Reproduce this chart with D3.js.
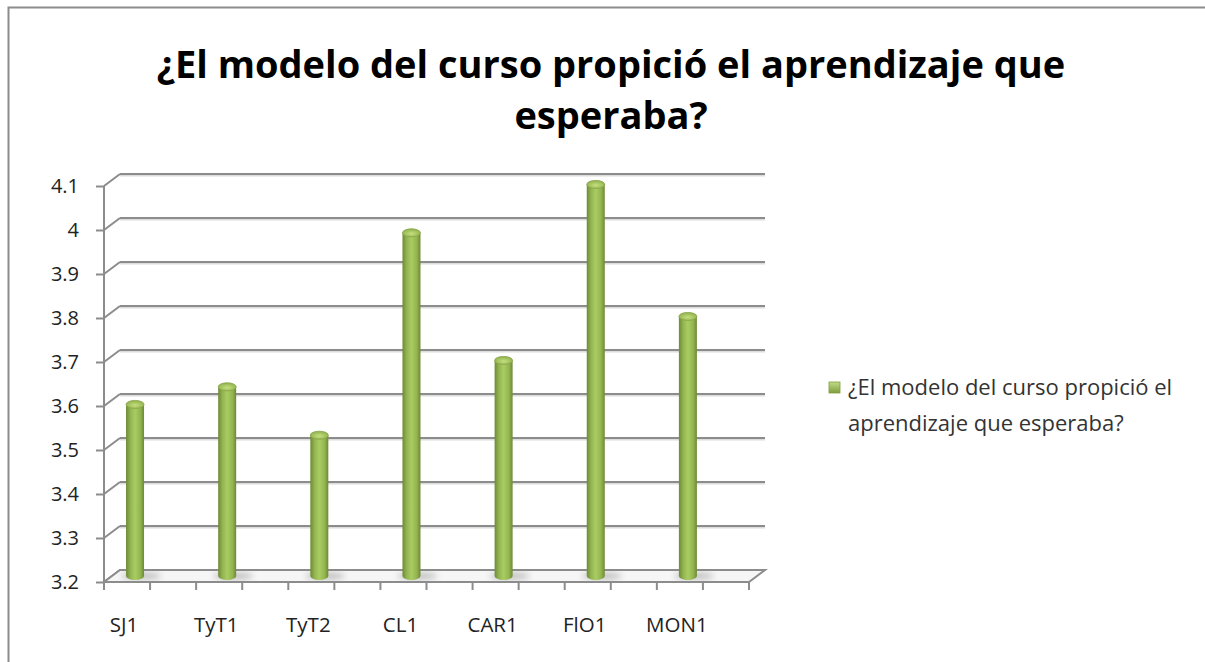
<!DOCTYPE html>
<html>
<head>
<meta charset="utf-8">
<script src="https://cdn.jsdelivr.net/npm/d3@7"></script>
<style>
  body { margin: 0; background: #fff; overflow: hidden; }
  svg { display: block; font-family: "Open Sans", Lato, sans-serif; }
</style>
</head>
<body>
<svg id="chart"></svg>
<script>
// data
const categories = ["SJ1", "TyT1", "TyT2", "CL1", "CAR1", "FlO1", "MON1"];
const values = [3.59, 3.63, 3.52, 3.98, 3.69, 4.09, 3.79];
const yTicks = [3.2, 3.3, 3.4, 3.5, 3.6, 3.7, 3.8, 3.9, 4, 4.1];
const seriesName = "¿El modelo del curso propició el aprendizaje que esperaba?";

const width = 1205, height = 662;
const plot = { left: 104, right: 749, top: 186, bottom: 582 };
const depth = { dx: 16, dy: -12 }; // 3d back-wall offset

const svg = d3.select("#chart").attr("width", width).attr("height", height);

// outer frame (only top and left edges are inside the picture)
svg.append("path")
  .attr("d", `M8.5,${height}V7.5H${width}`)
  .attr("fill", "none").attr("stroke", "#8c8c8c").attr("stroke-width", 2);

const defs = svg.append("defs");
const grad = defs.append("linearGradient").attr("id", "cyl").attr("x1", 0).attr("x2", 1).attr("y1", 0).attr("y2", 0);
grad.append("stop").attr("offset", "0%").attr("stop-color", "#6f8a35");
grad.append("stop").attr("offset", "25%").attr("stop-color", "#94b652");
grad.append("stop").attr("offset", "50%").attr("stop-color", "#a9cc62");
grad.append("stop").attr("offset", "80%").attr("stop-color", "#93b450");
grad.append("stop").attr("offset", "100%").attr("stop-color", "#6d8833");
const capGrad = defs.append("radialGradient").attr("id", "cap").attr("cx", "50%").attr("cy", "60%").attr("r", "60%");
capGrad.append("stop").attr("offset", "0%").attr("stop-color", "#c4e07e");
capGrad.append("stop").attr("offset", "100%").attr("stop-color", "#8fae4c");
defs.append("filter").attr("id", "blur").append("feGaussianBlur").attr("stdDeviation", 3);
const legGrad = defs.append("linearGradient").attr("id", "leg").attr("x1", 0).attr("x2", 0).attr("y1", 0).attr("y2", 1);
legGrad.append("stop").attr("offset", "0%").attr("stop-color", "#c2dc86");
legGrad.append("stop").attr("offset", "100%").attr("stop-color", "#7f9d3e");

// scales
const y = d3.scaleLinear().domain([3.2, 4.1]).range([plot.bottom, plot.top]);
const x = d3.scaleBand().domain(categories).range([plot.left, plot.right]).padding(0);
const bw = x.bandwidth();

// gridlines on back wall + slanted side wall edges
const grid = svg.append("g");
yTicks.forEach(t => {
  const yy = y(t);
  if (t > 3.2) {
    grid.append("line")
      .attr("x1", plot.left + depth.dx).attr("x2", plot.right + depth.dx)
      .attr("y1", yy + depth.dy + 1.5).attr("y2", yy + depth.dy + 1.5)
      .attr("stroke", "#dcdcdc").attr("stroke-width", 2);
    grid.append("line")
      .attr("x1", plot.left + depth.dx).attr("x2", plot.right + depth.dx)
      .attr("y1", yy + depth.dy).attr("y2", yy + depth.dy)
      .attr("stroke", "#8c8c8c").attr("stroke-width", 2);
  }
  grid.append("line")
    .attr("x1", plot.left).attr("x2", plot.left + depth.dx)
    .attr("y1", yy).attr("y2", yy + depth.dy)
    .attr("stroke", "#8c8c8c").attr("stroke-width", 2);
});

// floor
const floor = svg.append("g");
floor.append("path")
  .attr("d", `M${plot.left},${plot.bottom}L${plot.right},${plot.bottom}L${plot.right + depth.dx},${plot.bottom + depth.dy}L${plot.left + depth.dx},${plot.bottom + depth.dy}Z`)
  .attr("fill", "#f6f6f6").attr("stroke", "#8c8c8c").attr("stroke-width", 2);

// floor shadows
floor.selectAll("ellipse.shadow")
  .data(categories)
  .join("ellipse")
  .attr("class", "shadow")
  .attr("cx", d => x(d) + bw / 4 + depth.dx / 2 + 6)
  .attr("cy", plot.bottom + depth.dy / 2)
  .attr("rx", 20).attr("ry", 3.5)
  .attr("fill", "#bdbdbd")
  .attr("filter", "url(#blur)");

// y axis
const yAxis = svg.append("g")
  .attr("transform", `translate(${plot.left},0)`)
  .call(d3.axisLeft(y).tickValues(yTicks).tickFormat(d3.format("")).tickSize(8).tickPadding(17));
yAxis.select(".domain").attr("stroke", "#8c8c8c").attr("stroke-width", 2).attr("d", `M0,${plot.top}V${plot.bottom}`);
yAxis.selectAll(".tick line").attr("stroke", "#8c8c8c").attr("stroke-width", 2);
yAxis.selectAll(".tick text").attr("font-size", 20).attr("fill", "#222").attr("font-family", "'Open Sans', Lato, sans-serif");

// x axis: ticks at every half band
const xAxis = svg.append("g");
xAxis.append("line")
  .attr("x1", plot.left).attr("x2", plot.right)
  .attr("y1", plot.bottom).attr("y2", plot.bottom)
  .attr("stroke", "#8c8c8c").attr("stroke-width", 2);
const xTickPos = [];
categories.forEach(c => { xTickPos.push(x(c)); xTickPos.push(x(c) + bw / 2); });
xTickPos.push(plot.right);
xAxis.selectAll("line.tick")
  .data(xTickPos)
  .join("line")
  .attr("class", "tick")
  .attr("x1", d => d).attr("x2", d => d)
  .attr("y1", plot.bottom).attr("y2", plot.bottom + 8)
  .attr("stroke", "#8c8c8c").attr("stroke-width", 2);
xAxis.selectAll("text")
  .data(categories)
  .join("text")
  .attr("x", d => x(d) + bw / 4 - 3)
  .attr("y", 632)
  .attr("text-anchor", "middle")
  .attr("font-size", 20.5)
  .attr("fill", "#222")
  .text(d => d);

// cylinders
const bars = svg.append("g");
const r = 9, ry = 4;
const base = plot.bottom + depth.dy / 2;
categories.forEach((c, i) => {
  const cx = x(c) + bw / 4 + depth.dx / 2;
  const top = y(values[i]) + depth.dy / 2;
  bars.append("path")
    .attr("d", `M${cx - r},${top}L${cx - r},${base}A${r},${ry} 0 0 0 ${cx + r},${base}L${cx + r},${top}Z`)
    .attr("fill", "url(#cyl)");
  bars.append("ellipse")
    .attr("cx", cx).attr("cy", top)
    .attr("rx", r).attr("ry", ry)
    .attr("fill", "url(#cap)")
    .attr("stroke", "#86a546").attr("stroke-width", 0.8);
});

// title
const title = svg.append("text")
  .attr("text-anchor", "middle")
  .attr("font-size", 38)
  .attr("font-weight", "bold")
  .attr("fill", "#000");
title.append("tspan").attr("x", 611).attr("y", 78).text("¿El modelo del curso propició el aprendizaje que");
title.append("tspan").attr("x", 611).attr("y", 129).text("esperaba?");

// legend
const legend = svg.append("g");
legend.append("rect")
  .attr("x", 829).attr("y", 382).attr("width", 11).attr("height", 11)
  .attr("fill", "url(#leg)").attr("stroke", "#7f9d3e").attr("stroke-width", 0.8);
const lt = legend.append("text").attr("font-size", 22).attr("fill", "#333");
lt.append("tspan").attr("x", 848).attr("y", 395).text("¿El modelo del curso propició el");
lt.append("tspan").attr("x", 848).attr("y", 431).text("aprendizaje que esperaba?");
</script>
</body>
</html>
